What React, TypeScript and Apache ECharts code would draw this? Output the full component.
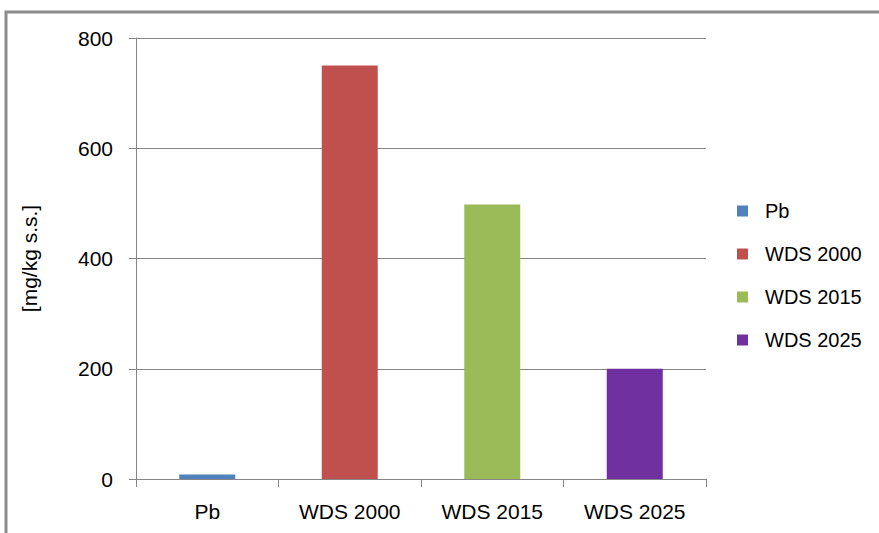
import React, { useEffect, useRef } from "react";
import * as echarts from "echarts";

const categories = ["Pb", "WDS 2000", "WDS 2015", "WDS 2025"];
const seriesNames = ["Pb", "WDS 2000", "WDS 2015", "WDS 2025"];
const seriesValues = [8, 750, 498, 200];
const colors = ["#4F81BD", "#C0504D", "#9BBB59", "#7030A0"];
const yTicks = { min: 0, max: 800, interval: 200 };
const yName = "[mg/kg s.s.]";

const FONT = "'Liberation Sans', Arial, sans-serif";

export default function App() {
  const ref = useRef<HTMLDivElement>(null);
  useEffect(() => {
    if (!ref.current) return;
    const chart = echarts.init(ref.current, null, { renderer: "svg" });
    chart.setOption({
      animation: false,
      backgroundColor: "#fff",
      textStyle: { fontFamily: FONT },
      grid: { left: 136, right: 173, top: 38, bottom: 54, containLabel: false },
      legend: {
        orient: "vertical",
        left: 732,
        top: 196,
        itemWidth: 11,
        itemHeight: 11,
        itemGap: 23,
        icon: "rect",
        textStyle: { fontSize: 20, color: "#000", fontFamily: FONT, padding: [0, 0, 0, 12] },
        data: seriesNames,
      },
      xAxis: {
        type: "category",
        data: categories,
        axisLine: { lineStyle: { color: "#868686", width: 1 } },
        axisTick: { show: true, length: 8, alignWithLabel: false, lineStyle: { color: "#868686" } },
        axisLabel: { fontSize: 21, color: "#000", margin: 22, fontFamily: FONT },
      },
      yAxis: {
        type: "value",
        min: yTicks.min,
        max: yTicks.max,
        interval: yTicks.interval,
        name: yName,
        nameLocation: "middle",
        nameGap: 96,
        nameRotate: 90,
        nameTextStyle: { fontSize: 21, color: "#000", fontFamily: FONT },
        axisLine: { show: true, lineStyle: { color: "#868686" } },
        axisTick: { show: true, length: 7, lineStyle: { color: "#868686" } },
        axisLabel: { fontSize: 21, color: "#000", margin: 23, fontFamily: FONT },
        splitLine: { show: true, lineStyle: { color: "#868686", width: 1 } },
      },
      series: seriesNames.map((name, i) => ({
        name,
        type: "bar",
        stack: "all",
        barWidth: 56,
        itemStyle: { color: colors[i] },
        data: categories.map((_, j) => (j === i ? seriesValues[i] : "-")),
      })),
      graphic: [
        {
          type: "polyline",
          shape: { points: [[6, 533], [6, 12], [879, 12]] },
          style: { stroke: "#8c8c8c", lineWidth: 3, fill: "none" },
          silent: true,
        },
      ],
    });
    return () => chart.dispose();
  }, []);
  return (
    <div
      ref={ref}
      style={{ position: "absolute", left: 0, top: 0, width: 879, height: 533 }}
    />
  );
}
